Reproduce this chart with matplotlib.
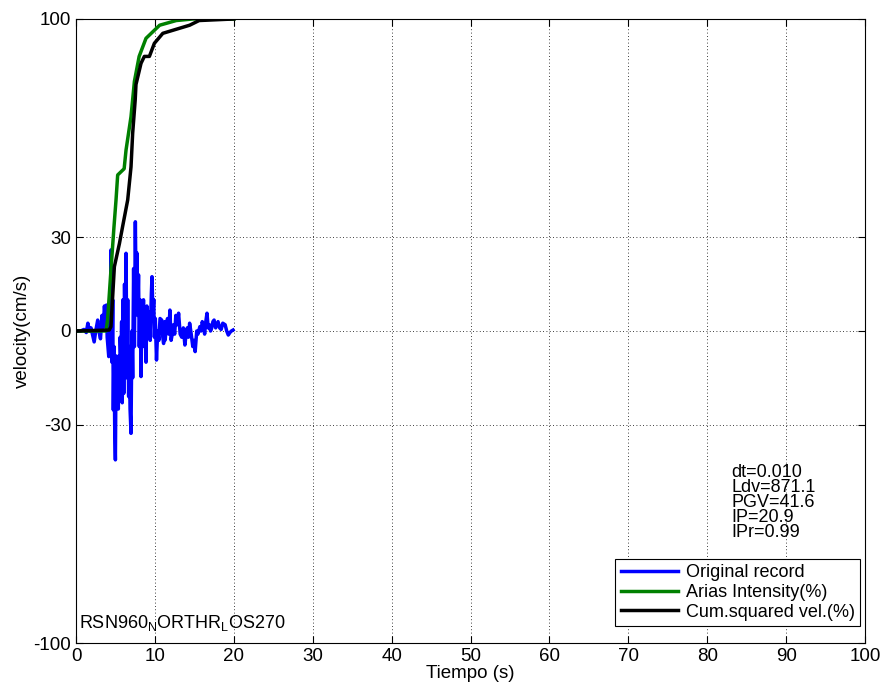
import matplotlib
matplotlib.use("Agg")
import matplotlib.pyplot as plt

plt.rcParams['font.family'] = ['Liberation Sans', 'DejaVu Sans']
plt.rcParams['mathtext.fontset'] = 'custom'
plt.rcParams['mathtext.rm'] = 'Liberation Sans'
plt.rcParams['mathtext.it'] = 'Liberation Sans'
plt.rcParams['axes.unicode_minus'] = False

# registro de velocidad
t_vel = [0, 0.6, 1.0, 1.3, 1.5, 1.7, 1.9, 2.1, 2.3, 2.5,
         2.75, 2.9, 3.1, 3.3, 3.45, 3.6, 3.75, 3.85, 3.95, 4.05,
         4.15, 4.25, 4.35, 4.44, 4.55, 4.65, 4.73, 4.82, 4.9, 4.99,
         5.08, 5.17, 5.28, 5.36, 5.44, 5.52, 5.6, 5.7, 5.78, 5.86,
         5.95, 6.05, 6.15, 6.25, 6.34, 6.45, 6.55, 6.67, 6.75, 6.85,
         6.97, 7.08, 7.18, 7.3, 7.4, 7.52, 7.62, 7.72, 7.82, 7.92,
         8.02, 8.12, 8.24, 8.35, 8.45, 8.55, 8.65, 8.75, 8.87, 8.98,
         9.1, 9.25, 9.4, 9.55, 9.63, 9.75, 9.85, 9.93, 10.05, 10.2,
         10.35, 10.5, 10.65, 10.86, 11.0, 11.1, 11.25, 11.3, 11.45, 11.6,
         11.75, 11.9, 12.05, 12.2, 12.35, 12.5, 12.65, 12.85, 13.0, 13.2,
         13.4, 13.6, 13.8, 13.95, 14.1, 14.25, 14.4, 14.6, 14.8, 14.95,
         15.1, 15.3, 15.45, 15.7, 15.85, 16.0, 16.2, 16.3, 16.45, 16.6,
         16.75, 16.9, 17.05, 17.2, 17.35, 17.5, 17.7, 17.85, 18.0, 18.2,
         18.4, 18.6, 18.9, 19.1, 19.3, 19.5, 19.7, 19.9]
vel = [0, 0, 0.5, -0.5, 2.5, 0, 1, -1.3, -3.5, 0,
       3.5, 0, -2.5, 5, 1, 8, 3, 8.3, -2, -5,
       -8.2, 3, -4, 26, -10, 10, -25.3, -5, -30, -41.3,
       -8, -20, -17.8, -25, -8, -22, -2, -10, 3, -23,
       10, -20, 15, -5, 24.9, -15, 10, -21, -5, -25,
       -32.8, 0, -15, 20, -5, 35, 10, 25, 5, 18,
       -5, 10, -14.6, 8, -3, 10, -5, 3, -10, 8,
       0, 6, -3, 12, 17.4, 5, 10, -2, 4, -9.3,
       0, -3, 4, 3.5, -2, -4, 3, -2.9, 2, 4,
       -1, 6.7, -3, -1, 2, -1, 5, 2, 5.7, -1,
       -2, 1, -4.5, -1, 1, -2, 2.5, -1, -5, -3,
       -6.6, 0, -1, 1.4, 0, 3, 1, -1, 3, 5.7,
       1, 2, 0, 1, 3, 3.5, 1, 2, 3, 1,
       0.5, 2.5, 2, 0, -1.3, -0.5, 0, 0.3]

# intensidad de Arias (%)
t_arias = [0, 3.8, 4.0, 4.4, 4.8, 5.07, 5.28, 6.1, 6.34, 6.97, 7.4, 8.0, 8.87, 10.6, 12.7, 14.8, 20]
arias = [0, 0, 3.5, 18.5, 33, 42, 50, 52, 58, 68.7, 80, 88, 93.8, 98, 99.5, 100, 100]

# velocidad cuadratica acumulada (%)
t_cum = [0, 4.2, 4.43, 4.86, 5.5, 5.9, 6.55, 6.97, 7.18, 7.5, 7.6, 8.24, 8.66, 9.3, 9.93, 11, 14.4, 15.6, 20]
cum = [0, 0.3, 1.4, 20.6, 28, 33.4, 42, 52.6, 63.4, 74, 79, 85.8, 88, 88, 92.2, 95.4, 98, 99.5, 100]

info = "dt=0.010\nLdv=871.1\nPGV=41.6\nIP=20.9\nIPr=0.99"
nombre = r"RSN960$_\mathrm{N}$ORTHR$_\mathrm{L}$OS270"

fig = plt.figure(figsize=(8.86, 6.95), dpi=100)
ax = fig.add_axes([0.0858, 0.0748, 0.8905, 0.8979])

ax.plot(t_vel, vel, color=(0, 0, 1), lw=2.5, label="Original record")
ax.plot(t_arias, arias, color=(0, 0.5, 0), lw=2.5, label="Arias Intensity(%)")
ax.plot(t_cum, cum, color="k", lw=2.5, label="Cum.squared vel.(%)")

ax.set_xlim(0, 100)
ax.set_ylim(-100, 100)
ax.set_xticks(range(0, 101, 10))
ax.set_yticks([-100, -30, 0, 30, 100])
ax.grid(True, color="k", linestyle=(0, (1, 3)), lw=0.6)
ax.tick_params(direction="in", length=5, top=True, right=True, labelsize=13.5)
for s in ax.spines.values():
    s.set_linewidth(0.8)

ax.set_xlabel("Tiempo (s)", fontsize=13.5, labelpad=0)
ax.set_ylabel("velocity(cm/s)", fontsize=13.5, labelpad=2)

ax.text(83.1, -42.5, info, fontsize=13, va="top", ha="left", linespacing=0.85)
ax.text(0.4, -95.3, nombre, fontsize=13, va="baseline", ha="left")

leg = ax.legend(loc="lower right", bbox_to_anchor=(0.9937, 0.0272), borderaxespad=0,
                fontsize=13, fancybox=False, framealpha=1, edgecolor="k",
                handlelength=3.2, labelspacing=0.15, borderpad=0.3, handletextpad=0.4)
leg.get_frame().set_linewidth(0.8)

fig.savefig("out.png", dpi=100)
